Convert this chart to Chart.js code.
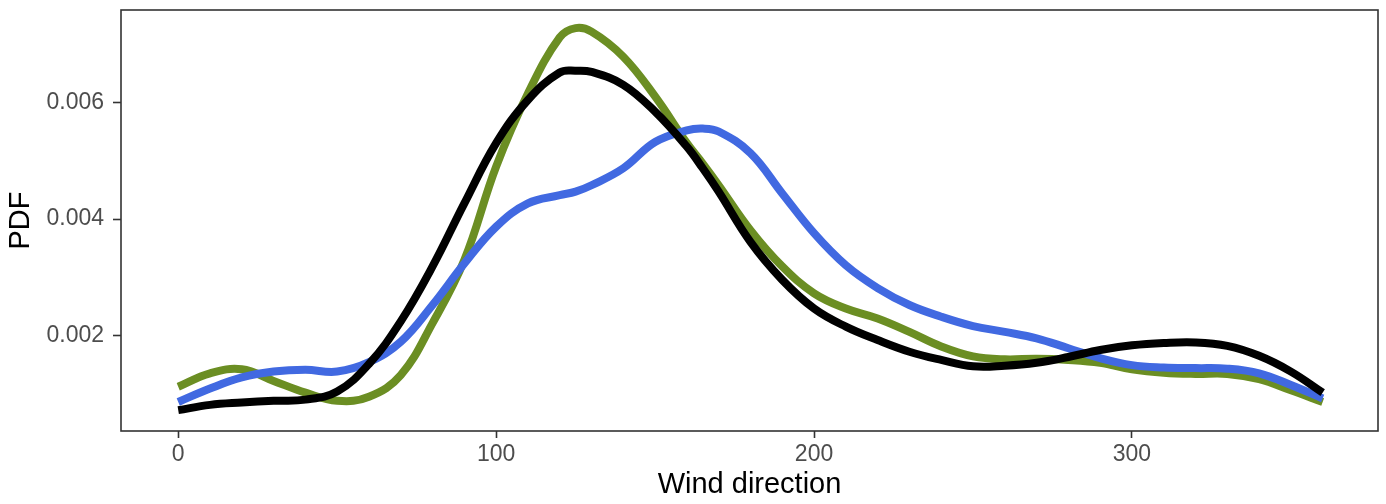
<!DOCTYPE html>
<html>
<head>
<meta charset="utf-8">
<script src="https://cdn.jsdelivr.net/npm/chart.js@4/dist/chart.umd.min.js"></script>
<style>
	html, body { margin: 0; padding: 0; background: #ffffff; }
	#pdf { display: block; }
</style>
</head>
<body>
<canvas id="pdf" width="1386" height="504"></canvas>
<script>
// Wind direction (degrees) sampled along the density curves.
var directions = [ 0, 10, 20, 30, 40, 50, 60, 70, 80, 90, 100, 110, 120, 125, 130, 140, 150, 160, 165, 170, 180, 190, 200, 210, 220, 230, 240, 250, 260, 270, 280, 290, 300, 310, 320, 330, 340, 350, 360 ];

// Density values, one per direction.
var greenPdf = [ 0.00113, 0.00136, 0.00143, 0.00123, 0.00103, 0.00089, 0.00096, 0.00133, 0.00222, 0.00330, 0.00490, 0.00615, 0.00711, 0.00727, 0.00721, 0.00678, 0.00610, 0.00530, 0.00495, 0.00458, 0.00381, 0.00319, 0.00273, 0.00247, 0.00230, 0.00207, 0.00182, 0.00165, 0.00160, 0.00161, 0.00159, 0.00154, 0.00143, 0.00137, 0.00135, 0.00135, 0.00126, 0.00107, 0.00087 ];
var bluePdf  = [ 0.00087, 0.00110, 0.00129, 0.00139, 0.00142, 0.00139, 0.00155, 0.00190, 0.00253, 0.00324, 0.00387, 0.00427, 0.00441, 0.00447, 0.00458, 0.00487, 0.00532, 0.00552, 0.00555, 0.00550, 0.00513, 0.00444, 0.00376, 0.00321, 0.00282, 0.00253, 0.00233, 0.00217, 0.00207, 0.00196, 0.00179, 0.00162, 0.00150, 0.00146, 0.00145, 0.00144, 0.00136, 0.00116, 0.00093 ];
var blackPdf = [ 0.00073, 0.00082, 0.00086, 0.00089, 0.00091, 0.00105, 0.00152, 0.00225, 0.00319, 0.00427, 0.00530, 0.00604, 0.00651, 0.00654, 0.00652, 0.00630, 0.00584, 0.00524, 0.00487, 0.00447, 0.00361, 0.00296, 0.00247, 0.00216, 0.00193, 0.00173, 0.00159, 0.00148, 0.00149, 0.00154, 0.00164, 0.00176, 0.00184, 0.00188, 0.00189, 0.00183, 0.00166, 0.00139, 0.00103 ];

// Axis ticks.
var xTicks = [ 0, 100, 200, 300 ];
var yTicks = [ 0.002, 0.004, 0.006 ];

function toPoints( ys ) {
	return directions.map( function ( d, i ) {
		return { x: d, y: ys[ i ] };
	} );
}

function curve( label, color, ys, order ) {
	return {
		label: label,
		data: toPoints( ys ),
		borderColor: color,
		backgroundColor: color,
		borderWidth: 8,
		pointRadius: 0,
		fill: false,
		tension: 0.4,
		borderCapStyle: 'butt',
		borderJoinStyle: 'round',
		order: order,
	};
}

// Panel border drawn over the curves, like ggplot's theme_bw.
var panelBorder = {
	id: 'panelBorder',
	afterDatasetsDraw: function ( chart ) {
		var a   = chart.chartArea;
		var ctx = chart.ctx;
		ctx.save();
		ctx.strokeStyle = '#333333';
		ctx.lineWidth = 1.6;
		ctx.strokeRect( a.left, a.top, a.right - a.left, a.bottom - a.top );
		ctx.restore();
	},
};

var tickFont  = { family: '"Liberation Sans", Arial, sans-serif', size: 23 };
var titleFont = { family: '"Liberation Sans", Arial, sans-serif', size: 29 };

new Chart( document.getElementById( 'pdf' ), {
	type: 'line',
	data: {
		datasets: [
			curve( 'black', '#000000', blackPdf, 1 ),
			curve( 'blue', '#4169E1', bluePdf, 2 ),
			curve( 'green', '#6B8E23', greenPdf, 3 ),
		],
	},
	plugins: [ panelBorder ],
	options: {
		responsive: false,
		animation: false,
		devicePixelRatio: 1,
		layout: { padding: { left: 0, top: 10, right: 8, bottom: 0 } },
		plugins: {
			legend: { display: false },
			tooltip: { enabled: false },
		},
		scales: {
			x: {
				type: 'linear',
				min: -18,
				max: 377.4,
				afterBuildTicks: function ( axis ) {
					axis.ticks = xTicks.map( function ( v ) { return { value: v }; } );
				},
				afterFit: function ( axis ) {
					axis.height = 73;
					axis.paddingLeft = 0;
					axis.paddingRight = 0;
				},
				grid: { drawOnChartArea: false, drawTicks: true, tickLength: 7, tickColor: '#333333', tickWidth: 1.6 },
				border: { display: false },
				ticks: {
					color: '#4D4D4D',
					font: tickFont,
					padding: 3,
					maxRotation: 0,
					callback: function ( value ) { return String( value ); },
				},
				title: {
					display: true,
					text: 'Wind direction',
					color: '#000000',
					font: titleFont,
					padding: { top: 0, bottom: 2 },
				},
			},
			y: {
				type: 'linear',
				min: 0.000373,
				max: 0.00758,
				afterBuildTicks: function ( axis ) {
					axis.ticks = yTicks.map( function ( v ) { return { value: v }; } );
				},
				afterFit: function ( axis ) {
					axis.width = 121;
					axis.paddingTop = 0;
					axis.paddingBottom = 0;
				},
				grid: { drawOnChartArea: false, drawTicks: true, tickLength: 8, tickColor: '#333333', tickWidth: 1.6 },
				border: { display: false },
				ticks: {
					color: '#4D4D4D',
					font: tickFont,
					padding: 9,
					callback: function ( value ) { return value.toFixed( 3 ); },
				},
				title: {
					display: true,
					text: 'PDF',
					color: '#000000',
					font: titleFont,
					padding: { top: 4, bottom: 0 },
				},
			},
		},
	},
} );
</script>
</body>
</html>
